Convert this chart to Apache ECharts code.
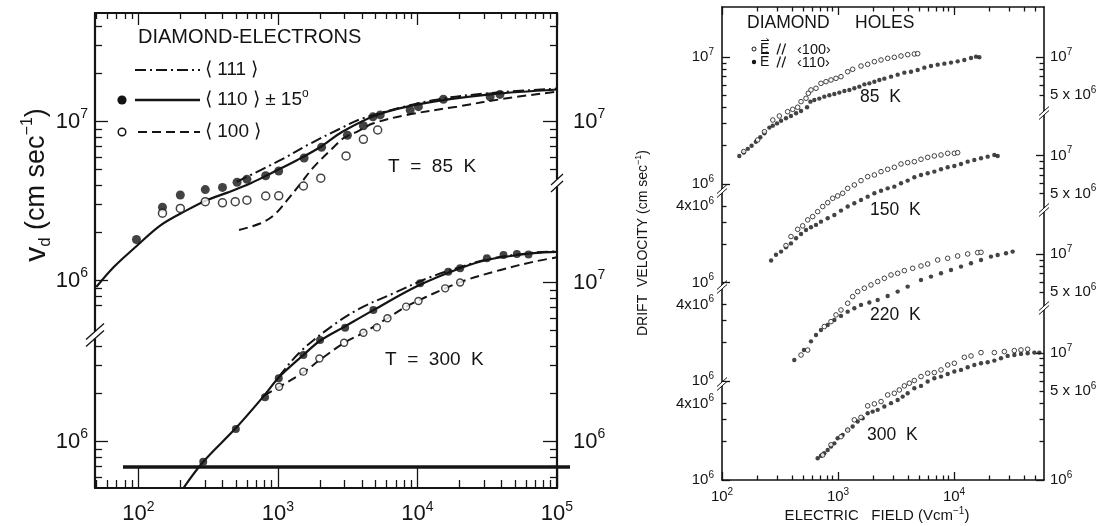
<!DOCTYPE html>
<html>
<head>
<meta charset="utf-8">
<title>Drift velocity in diamond</title>
<script src="https://cdn.jsdelivr.net/npm/echarts@6.0.0/dist/echarts.min.js"></script>
<style>
html,body{margin:0;padding:0;background:#fff;}
#chart{width:1110px;height:526px;}
</style>
</head>
<body>
<div id="chart"></div>
<script>
// ---------- Electrons (left panel): [field E (V/cm), drift velocity v_d (cm/s)] ----------
const elec85Curve111 = [[508,4.18e6],[1049,5.73e6],[1721,7.29e6],[2824,9.06e6],[4100,1.05e7],[12950,1.36e7],[33200,1.51e7],[100000,1.61e7]];
const elec85Curve110 = [[50,9.1e5],[67,1.22e6],[96,1.63e6],[145,2.23e6],[225,2.78e6],[312,3.21e6],[435,3.57e6],[639,4.09e6],[939,4.83e6],[1380,5.73e6],[2030,6.94e6],[2900,8.63e6],[5120,1.10e7],[11040,1.30e7],[33200,1.48e7],[100000,1.59e7]];
const elec85Curve100 = [[527,2.08e6],[754,2.29e6],[939,2.58e6],[1170,3.21e6],[1460,4.09e6],[1817,5.20e6],[2528,6.94e6],[2983,7.9e6],[3677,8.6e6],[4837,9.74e6],[8395,1.10e7],[19160,1.24e7],[43750,1.40e7],[100000,1.54e7]];
const elec85Pts110 = [[97,1.81e6],[149,2.89e6],[200,3.45e6],[302,3.73e6],[401,3.85e6],[510,4.15e6],[600,4.33e6],[818,4.56e6],[1014,4.88e6],[1541,5.89e6],[2057,6.89e6],[3150,8.2e6],[4100,9.4e6],[4800,1.07e7],[5410,1.10e7],[8870,1.18e7],[10160,1.24e7],[15350,1.38e7],[33200,1.43e7],[39000,1.48e7]];
const elec85Pts100 = [[149,2.65e6],[200,2.84e6],[302,3.13e6],[401,3.08e6],[495,3.13e6],[600,3.2e6],[818,3.40e6],[1014,3.41e6],[1524,3.93e6],[2030,4.40e6],[3080,6.07e6],[4100,7.73e6],[5190,8.84e6]];

const elec300Curve111 = [[1015,2.55e6],[1443,3.66e6],[2500,5.40e6],[3880,6.88e6],[6730,8.55e6],[11680,1.06e7],[20230,1.25e7],[33200,1.41e7],[67850,1.54e7],[100000,1.57e7]];
const elec300Curve110 = [[210,5.08e5],[292,7.46e5],[498,1.21e6],[796,1.94e6],[1015,2.53e6],[1523,3.5e6],[2007,4.3e6],[3032,5.3e6],[4836,6.7e6],[10000,9.5e6],[20230,1.23e7],[33200,1.4e7],[67850,1.53e7],[100000,1.56e7]];
const elec300Curve100 = [[796,1.94e6],[1015,2.2e6],[1523,2.72e6],[2000,3.26e6],[2980,4.17e6],[4100,4.83e6],[6100,5.96e6],[8300,7.05e6],[15810,9.19e6],[22600,1.04e7],[39480,1.2e7],[67850,1.35e7],[100000,1.44e7]];
const elec300Pts110 = [[292,7.46e5],[500,1.2e6],[809,1.9e6],[1015,2.5e6],[1523,3.5e6],[2007,4.35e6],[3032,5.2e6],[4836,6.71e6],[10450,9.88e6],[16630,1.17e7],[20230,1.23e7],[31440,1.42e7],[41350,1.49e7],[51580,1.51e7],[62500,1.50e7]];
const elec300Pts100 = [[1020,2.21e6],[1523,2.75e6],[1984,3.33e6],[2983,4.18e6],[4102,4.83e6],[5117,5.22e6],[6100,5.96e6],[8300,7.05e6],[10170,7.65e6],[15810,9.19e6],[20230,1.0e7]];

// ---------- Holes (right panel): [field E (V/cm), drift velocity (cm/s)] ----------
const holes85Pts110 = [[141,1.66e6],[154,1.77e6],[167,1.89e6],[180,2.0e6],[196,2.15e6],[214,2.33e6],[232,2.51e6],[256,2.78e6],[274,2.88e6],[298,3.0e6],[323,3.15e6],[356,3.29e6],[393,3.43e6],[435,3.6e6],[480,3.76e6],[541,4.02e6],[578,4.45e6],[625,4.59e6],[690,4.7e6],[762,4.87e6],[842,4.99e6],[930,5.11e6],[1027,5.24e6],[1135,5.4e6],[1253,5.5e6],[1383,5.67e6],[1528,5.84e6],[1687,6.09e6],[1863,6.2e6],[2058,6.39e6],[2272,6.59e6],[2509,6.75e6],[2864,7.0e6],[3269,7.26e6],[3732,7.53e6],[4259,7.66e6],[4862,7.9e6],[5550,8.24e6],[6334,8.49e6],[7231,8.7e6],[8254,8.86e6],[9422,9.03e6],[10755,9.24e6],[12276,9.47e6],[14018,9.82e6],[15478,1.006e7],[16535,9.94e6]];
const holes85Pts100 = [[154,1.8e6],[203,2.22e6],[232,2.58e6],[274,3.19e6],[312,3.43e6],[368,3.71e6],[407,3.87e6],[449,4.02e6],[480,4.45e6],[530,4.73e6],[555,5.18e6],[585,5.5e6],[646,5.67e6],[713,6.2e6],[788,6.39e6],[870,6.59e6],[961,6.79e6],[1061,7.0e6],[1212,7.66e6],[1338,8.0e6],[1579,8.49e6],[1802,8.76e6],[2058,9.19e6],[2349,9.47e6],[2681,9.76e6],[3059,9.94e6],[3492,1.018e7],[3987,1.043e7],[4550,1.056e7],[4862,1.062e7]];
const holes150Pts110 = [[265,1.49e6],[292,1.65e6],[323,1.75e6],[356,1.89e6],[393,2.03e6],[435,2.23e6],[480,2.41e6],[530,2.59e6],[585,2.72e6],[646,2.84e6],[713,3.01e6],[815,3.2e6],[930,3.4e6],[1061,3.68e6],[1212,3.96e6],[1383,4.2e6],[1579,4.46e6],[1802,4.74e6],[2058,5.04e6],[2349,5.28e6],[2681,5.51e6],[3059,5.68e6],[3492,6.04e6],[3987,6.34e6],[4550,6.73e6],[5194,7.02e6],[5929,7.24e6],[6768,7.46e6],[7727,7.78e6],[8820,8.07e6],[10067,8.27e6],[11490,8.57e6],[13120,8.94e6],[14970,9.22e6],[17090,9.5e6],[19510,9.79e6],[22270,1.009e7],[23790,9.91e6]];
const holes150Pts100 = [[356,1.95e6],[393,2.3e6],[449,2.62e6],[496,2.79e6],[548,3.11e6],[605,3.3e6],[668,3.61e6],[738,3.96e6],[815,4.25e6],[900,4.6e6],[993,4.8e6],[1097,5.04e6],[1212,5.51e6],[1383,5.86e6],[1579,6.34e6],[1802,6.81e6],[2058,7.02e6],[2349,7.46e6],[2681,7.78e6],[3059,8.07e6],[3492,8.57e6],[3987,8.78e6],[4550,8.94e6],[5194,9.33e6],[5929,9.67e6],[6768,9.91e6],[7727,1.009e7],[8820,1.04e7],[10067,1.04e7],[10755,1.052e7]];
const holes220Pts110 = [[420,1.46e6],[509,1.75e6],[585,2.05e6],[646,2.3e6],[713,2.52e6],[815,2.76e6],[930,3.02e6],[1061,3.25e6],[1212,3.51e6],[1383,3.73e6],[1579,3.97e6],[1863,4.14e6],[2198,4.34e6],[2681,4.67e6],[3269,5.05e6],[3987,5.53e6],[5194,6.24e6],[6334,6.63e6],[7727,7.04e6],[9422,7.48e6],[11490,7.95e6],[14018,8.44e6],[17090,8.97e6],[20840,9.53e6],[23790,9.82e6],[28070,1.012e7],[32030,1.043e7]];
const holes220Pts100 = [[480,1.6e6],[548,1.75e6],[762,2.68e6],[870,2.93e6],[961,3.31e6],[1061,3.62e6],[1212,4.09e6],[1338,4.61e6],[1478,5.05e6],[1687,5.37e6],[1925,5.7e6],[2198,6.06e6],[2509,6.43e6],[2864,6.83e6],[3269,7.04e6],[3732,7.39e6],[4402,7.71e6],[5194,8.04e6],[5929,8.34e6],[7231,8.97e6],[8820,9.24e6],[10755,9.64e6],[13120,1.0e7],[16000,1.024e7],[17090,1.031e7]];
const holes300Pts110 = [[668,1.48e6],[713,1.55e6],[762,1.62e6],[815,1.72e6],[870,1.83e6],[930,1.94e6],[993,2.13e6],[1097,2.26e6],[1212,2.47e6],[1338,2.63e6],[1478,2.88e6],[1632,3.06e6],[1802,3.35e6],[1990,3.45e6],[2198,3.56e6],[2509,3.78e6],[2864,4.02e6],[3269,4.26e6],[3611,4.53e6],[3987,4.81e6],[4550,5.27e6],[5194,5.5e6],[5929,5.95e6],[6768,6.32e6],[7727,6.51e6],[8820,6.83e6],[10067,7.13e6],[11490,7.35e6],[13120,7.71e6],[14970,8.04e6],[17090,8.29e6],[19510,8.44e6],[22270,8.7e6],[25420,9.08e6],[29010,9.47e6],[33130,9.64e6],[37810,9.82e6],[43170,9.94e6],[49270,1.006e7],[54410,1.006e7]];
const holes300Pts100 = [[738,1.57e6],[870,1.89e6],[1061,2.19e6],[1212,2.47e6],[1383,2.97e6],[1579,3.11e6],[1802,3.83e6],[2058,3.97e6],[2349,4.14e6],[2681,4.67e6],[3059,4.81e6],[3379,5.11e6],[3732,5.5e6],[4120,5.77e6],[4550,6.06e6],[5194,6.51e6],[5929,6.92e6],[6768,7.0e6],[7727,7.35e6],[8820,8.04e6],[10067,8.29e6],[12276,9.24e6],[14018,9.47e6],[17090,1.006e7],[22270,1.006e7],[27170,1.024e7],[33130,1.043e7],[37810,1.056e7],[43170,1.069e7]];

// ---------- Tick labels: [value, mantissa text, exponent] ----------
const elecXLabels = [[1e2,'10','2'],[1e3,'10','3'],[1e4,'10','4'],[1e5,'10','5']];
const elec85LeftLabels = [[1e6,'10','6'],[1e7,'10','7']];
const elec85RightLabels = [[1e7,'10','7']];
const elec300LeftLabels = [[1e6,'10','6']];
const elec300RightLabels = [[1e6,'10','6'],[1e7,'10','7']];
const holesXLabels = [[1e2,'10','2'],[1e3,'10','3'],[1e4,'10','4']];
const holesTopLeftLabels = [[1e6,'10','6'],[1e7,'10','7']];
const holesLeftLabels = [[1e6,'10','6'],[4e6,'4x10','6']];
const holesRightLabels = [[5e6,'5 x 10','6'],[1e7,'10','7']];
const holesBottomRightLabels = [[1e6,'10','6'],[5e6,'5 x 10','6'],[1e7,'10','7']];

// ---------- Texts ----------
const elecTitle = 'DIAMOND-ELECTRONS';
const elecLegend = ['\u27E8 111 \u27E9', '\u27E8 110 \u27E9 \u00B1 15', '\u27E8 100 \u27E9'];
const elecTemps = ['T  =  85  K', 'T  =  300  K'];
const holesTitle = ['DIAMOND', 'HOLES'];
const holesLegend = ['\u2039100\u203A', '\u2039110\u203A'];
const holesTemps = ['85  K', '150  K', '220  K', '300  K'];

// ---------- Layout ----------
const FONT = '"Liberation Sans", Arial, Helvetica, sans-serif';
const INK = '#141414';
const LP = {left: 95, top: 13, right: 557, bottom: 488};   // electrons frame
const RP = {left: 722, top: 7, right: 1044, bottom: 480};  // holes frame
const LP_DEC = 159, LP_X10 = 138.3, LP_XDEC = 139.57;      // px per decade
const RP_DEC = 127, RP_XDEC = 116;
// pixel row where 1e7 sits for each stacked sub-plot
const LP_ROWS = {k85: 121.5, k300: 282.5};
const RP_ROWS = {k85: 57, k150: 155.5, k220: 254, k300: 353};

function yRange(frame, row, dec) {
  return [Math.pow(10, 7 - (frame.bottom - row) / dec), Math.pow(10, 7 + (row - frame.top) / dec)];
}
const lpX = [Math.pow(10, 2 - (LP_X10 - LP.left) / LP_XDEC), 1e5];
const rpX = [100, Math.pow(10, 2 + (RP.right - RP.left) / RP_XDEC)];

function minorValues(lo, hi) {
  const out = [];
  for (let k = Math.floor(Math.log10(lo)) - 1; k <= Math.ceil(Math.log10(hi)); k++) {
    for (let m = 2; m <= 9; m++) {
      const v = m * Math.pow(10, k);
      if (v >= lo * 0.999 && v <= hi * 1.001) out.push(v);
    }
  }
  return out;
}

function fmt(labels, val) {
  let best = null, bd = Infinity;
  labels.forEach(l => { const d = Math.abs(Math.log10(val) - Math.log10(l[0])); if (d < bd) { bd = d; best = l; } });
  return best && bd < 0.01 ? '{m|' + best[1] + '}{s|' + best[2] + '}' : '';
}
function richSet(big, small, lh) {
  return {
    m: {fontSize: big, fontFamily: FONT, color: INK, lineHeight: lh},
    s: {fontSize: small, fontFamily: FONT, color: INK, verticalAlign: 'top', lineHeight: small}
  };
}

const option = {animation: false, backgroundColor: '#ffffff', grid: [], xAxis: [], yAxis: [], series: [], graphic: []};

function addGrid(f) {
  option.grid.push({left: f.left, top: f.top, width: f.right - f.left, height: f.bottom - f.top, containLabel: false});
  return option.grid.length - 1;
}
function axis(gi, range, position, o) {
  const a = {
    type: 'log', logBase: 10, gridIndex: gi, position: position, min: range[0], max: range[1],
    splitLine: {show: false}, minorTick: {show: false}, minorSplitLine: {show: false},
    axisLine: o.line ? {show: true, onZero: false, lineStyle: {color: INK, width: o.line}} : {show: false},
    axisTick: o.ticks && o.ticks.length ? {show: true, inside: true, length: o.tickLen, customValues: o.ticks, lineStyle: {color: INK, width: o.tickWidth || 1.3}} : {show: false},
    axisLabel: {show: false},
    axisPointer: {show: false}
  };
  if (o.labels) {
    a.axisLabel = {
      show: true, customValues: o.labels.map(l => l[0]), margin: o.margin,
      formatter: v => fmt(o.labels, v), rich: o.rich, hideOverlap: false
    };
  }
  return a;
}
function addX(gi, range, position, o) { option.xAxis.push(axis(gi, range, position, o)); return option.xAxis.length - 1; }
function addY(gi, range, position, o) { option.yAxis.push(axis(gi, range, position, o)); return option.yAxis.length - 1; }

function curve(xi, yi, data, dash, width) {
  option.series.push({type: 'line', xAxisIndex: xi, yAxisIndex: yi, data: data, smooth: 0.35, symbol: 'none', showSymbol: false,
    lineStyle: {color: INK, width: width, type: dash}, silent: true, z: 3});
}
function dots(xi, yi, data, size, filled, bw) {
  option.series.push({type: 'scatter', xAxisIndex: xi, yAxisIndex: yi, data: data, symbol: 'circle', symbolSize: size, silent: true, z: filled ? 4 : 5,
    itemStyle: filled ? {color: INK} : {color: '#ffffff', borderColor: INK, borderWidth: bw}});
}

// ================= Electrons panel =================
const lpRich = richSet(22, 14, 28);
const lpXMinor = minorValues(lpX[0], lpX[1]);
const lpXMajor = elecXLabels.map(l => l[0]);

const g85 = addGrid(LP);
const x85 = addX(g85, lpX, 'bottom', {line: 2.2, ticks: lpXMajor, tickLen: 21, labels: elecXLabels, margin: 12, rich: lpRich});
addX(g85, lpX, 'bottom', {ticks: lpXMinor, tickLen: 8});
addX(g85, lpX, 'top', {line: 2.2, ticks: lpXMajor, tickLen: 12});
addX(g85, lpX, 'top', {ticks: lpXMinor, tickLen: 6});
const r85 = yRange(LP, LP_ROWS.k85, LP_DEC);
const y85 = addY(g85, r85, 'left', {line: 2.2, ticks: [1e6, 1e7], tickLen: 13, labels: elec85LeftLabels, margin: 7, rich: lpRich});
addY(g85, r85, 'left', {ticks: [7e5, 8e5, 9e5].concat(minorValues(2e6, r85[1])), tickLen: 7});
addY(g85, r85, 'right', {line: 2.2, ticks: [1e7], tickLen: 14, labels: elec85RightLabels, margin: 16, rich: lpRich});
addY(g85, r85, 'right', {ticks: minorValues(5e6, r85[1]), tickLen: 7});

const g300 = addGrid(LP);
const x300 = addX(g300, lpX, 'bottom', {});
const r300 = yRange(LP, LP_ROWS.k300, LP_DEC);
const y300 = addY(g300, r300, 'left', {ticks: [1e6], tickLen: 13, labels: elec300LeftLabels, margin: 7, rich: lpRich});
addY(g300, r300, 'left', {ticks: minorValues(r300[0], 4e6).filter(v => v < 1e6 || v > 1.5e6), tickLen: 7});
addY(g300, r300, 'right', {ticks: [1e6, 1e7], tickLen: 14, labels: elec300RightLabels, margin: 16, rich: lpRich});
addY(g300, r300, 'right', {ticks: minorValues(r300[0], 9e6), tickLen: 7});

curve(x85, y85, elec85Curve111, [11, 4, 2, 4], 2);
curve(x85, y85, elec85Curve110, 'solid', 2.2);
curve(x85, y85, elec85Curve100, [9, 5], 2);
dots(x85, y85, elec85Pts110, 9, true);
dots(x85, y85, elec85Pts100, 8, false, 1.5);

curve(x300, y300, elec300Curve111, [11, 4, 2, 4], 2);
curve(x300, y300, elec300Curve110, 'solid', 2.2);
curve(x300, y300, elec300Curve100, [9, 5], 2);
dots(x300, y300, elec300Pts110, 8, true);
dots(x300, y300, elec300Pts100, 7, false, 1.4);

// ================= Holes panel =================
const rpRich = richSet(15, 10, 20);
const rpXMinor = minorValues(rpX[0], rpX[1]);
const rpXMajor = holesXLabels.map(l => l[0]);
const sections = [
  {key: 'k85', left: holesTopLeftLabels, leftMajor: [1e6, 1e7], leftMinor: [2e6, 3e6, 4e6, 5e6, 6e6, 7e6, 8e6, 9e6],
   right: holesRightLabels, rightMajor: [1e7], rightMinor: [5e6, 6e6, 7e6, 8e6, 9e6], filled: holes85Pts110, open: holes85Pts100},
  {key: 'k150', left: holesLeftLabels, leftMajor: [1e6], leftMinor: [2e6, 3e6, 4e6],
   right: holesRightLabels, rightMajor: [1e7], rightMinor: [5e6, 6e6, 7e6, 8e6, 9e6], filled: holes150Pts110, open: holes150Pts100},
  {key: 'k220', left: holesLeftLabels, leftMajor: [1e6], leftMinor: [2e6, 3e6, 4e6],
   right: holesRightLabels, rightMajor: [1e7], rightMinor: [5e6, 6e6, 7e6, 8e6, 9e6], filled: holes220Pts110, open: holes220Pts100},
  {key: 'k300', left: holesLeftLabels, leftMajor: [1e6], leftMinor: [2e6, 3e6, 4e6],
   right: holesBottomRightLabels, rightMajor: [1e6, 1e7], rightMinor: [2e6, 3e6, 4e6, 5e6, 6e6, 7e6, 8e6, 9e6], filled: holes300Pts110, open: holes300Pts100}
];
sections.forEach((s, i) => {
  const gi = addGrid(RP);
  const rng = yRange(RP, RP_ROWS[s.key], RP_DEC);
  rng[0] *= 0.998;
  let xi;
  if (i === 0) {
    xi = addX(gi, rpX, 'bottom', {line: 1.6, ticks: rpXMajor, tickLen: 8, labels: holesXLabels, margin: 7, rich: rpRich});
    addX(gi, rpX, 'bottom', {ticks: rpXMinor, tickLen: 4.5});
    addX(gi, rpX, 'top', {line: 1.6, ticks: rpXMajor, tickLen: 8});
    addX(gi, rpX, 'top', {ticks: rpXMinor, tickLen: 4.5});
  } else {
    xi = addX(gi, rpX, 'bottom', {});
  }
  const yi = addY(gi, rng, 'left', {line: i === 0 ? 1.6 : 0, ticks: s.leftMajor, tickLen: 8, labels: s.left, margin: 8, rich: rpRich});
  addY(gi, rng, 'left', {ticks: s.leftMinor, tickLen: 4.5});
  addY(gi, rng, 'right', {line: i === 0 ? 1.6 : 0, ticks: s.rightMajor, tickLen: 8, labels: s.right, margin: 6, rich: rpRich});
  addY(gi, rng, 'right', {ticks: s.rightMinor, tickLen: 4.5});
  dots(xi, yi, s.filled, 4.4, true);
  dots(xi, yi, s.open, 4.6, false, 1);
});

// ================= Decorations: texts, legend keys, axis breaks =================
const G = option.graphic;
function text(x, y, str, size, opts) {
  opts = opts || {};
  G.push({type: 'text', x: x, y: y, rotation: opts.rotation || 0, z: 50, silent: true,
    style: {text: str, fill: INK, font: size + 'px ' + FONT, fontSize: size, fontFamily: FONT,
      align: opts.align || 'left', verticalAlign: 'middle', textAlign: opts.align || 'left', textVerticalAlign: 'middle', rich: opts.rich}});
}
function seg(x1, y1, x2, y2, w, dash) {
  G.push({type: 'line', z: 60, silent: true, shape: {x1: x1, y1: y1, x2: x2, y2: y2}, style: {stroke: INK, lineWidth: w, lineDash: dash || null}});
}
function brk(x, y, h, w, lw) {
  G.push({type: 'rect', z: 55, silent: true, shape: {x: x - 3, y: y - h / 2, width: 6, height: h}, style: {fill: '#ffffff'}});
  seg(x - w, y - h / 2 + w * 0.9, x + w, y - h / 2 - w * 0.9, lw);
  seg(x - w, y + h / 2 + w * 0.9, x + w, y + h / 2 - w * 0.9, lw);
}

// axis titles
text(37, 185, '{v|v}{d|d}{p| (cm sec}{e|\u22121}{p|)}', 27, {align: 'center', rotation: Math.PI / 2, rich: {
  v: {fontSize: 30, fontFamily: FONT, color: INK, lineHeight: 34},
  d: {fontSize: 17, fontFamily: FONT, color: INK, verticalAlign: 'bottom', lineHeight: 17},
  p: {fontSize: 27, fontFamily: FONT, color: INK, lineHeight: 34},
  e: {fontSize: 16, fontFamily: FONT, color: INK, verticalAlign: 'top', lineHeight: 16}}});
text(643, 243, '{p|DRIFT  VELOCITY (cm sec}{e|\u22121}{p|)}', 14, {align: 'center', rotation: Math.PI / 2, rich: {
  p: {fontSize: 14, fontFamily: FONT, color: INK, lineHeight: 18},
  e: {fontSize: 9, fontFamily: FONT, color: INK, verticalAlign: 'top', lineHeight: 9}}});
text(877, 516, '{p|ELECTRIC   FIELD (Vcm}{e|\u22121}{p|)}', 15, {align: 'center', rich: {
  p: {fontSize: 15, fontFamily: FONT, color: INK, lineHeight: 20},
  e: {fontSize: 10, fontFamily: FONT, color: INK, verticalAlign: 'top', lineHeight: 10}}});

// electrons legend
text(138, 37, elecTitle, 20);
seg(135, 70, 200, 70, 2, [11, 4, 2, 4]);
text(205, 70, elecLegend[0], 19);
G.push({type: 'circle', z: 60, silent: true, shape: {cx: 122, cy: 100, r: 4.6}, style: {fill: INK}});
seg(135, 100, 200, 100, 2.6);
text(205, 100, '{p|' + elecLegend[1] + '}{o|o}', 19, {rich: {
  p: {fontSize: 19, fontFamily: FONT, color: INK, lineHeight: 24},
  o: {fontSize: 12, fontFamily: FONT, color: INK, verticalAlign: 'top', lineHeight: 12}}});
G.push({type: 'circle', z: 60, silent: true, shape: {cx: 122, cy: 132, r: 3.8}, style: {fill: '#fff', stroke: INK, lineWidth: 1.5}});
seg(138, 132, 200, 132, 2, [9, 5]);
text(205, 132, elecLegend[2], 19);
text(388, 167, elecTemps[0], 19);
text(385, 360, elecTemps[1], 19);

// baseline bar across the electrons frame
seg(123, 467, 570, 467, 3.6);

// holes legend and labels
text(747, 23, holesTitle[0], 17.5);
text(855, 23, holesTitle[1], 17.5);
[[49, false], [62, true]].forEach((row, k) => {
  const y = row[0];
  G.push({type: 'circle', z: 60, silent: true, shape: {cx: 754, cy: y, r: row[1] ? 2.2 : 2},
    style: row[1] ? {fill: INK} : {fill: '#fff', stroke: INK, lineWidth: 1}});
  text(760, y + 0.5, 'E', 14);
  // vector arrow over the E
  seg(761, y - 8.5, 769, y - 8.5, 1);
  seg(766.5, y - 10.5, 769, y - 8.5, 1);
  // parallel sign
  seg(777, y + 5.5, 780.5, y - 5.5, 1.2);
  seg(782, y + 5.5, 785.5, y - 5.5, 1.2);
  text(797, y + 0.5, holesLegend[k], 14.5);
});
text(860, 97, holesTemps[0], 17.5);
text(870, 210, holesTemps[1], 17.5);
text(870, 315, holesTemps[2], 17.5);
text(867, 435, holesTemps[3], 17.5);

// axis breaks
brk(LP.left, 335, 7, 9, 1.3);
brk(LP.right, 183, 7, 6, 1.3);
[191, 287, 384].forEach(y => brk(RP.left, y, 4, 5, 1));
[113, 210, 308].forEach(y => brk(RP.right, y, 4, 5, 1));

const chart = echarts.init(document.getElementById('chart'), null, {renderer: 'canvas'});
chart.setOption(option);
</script>
</body>
</html>
